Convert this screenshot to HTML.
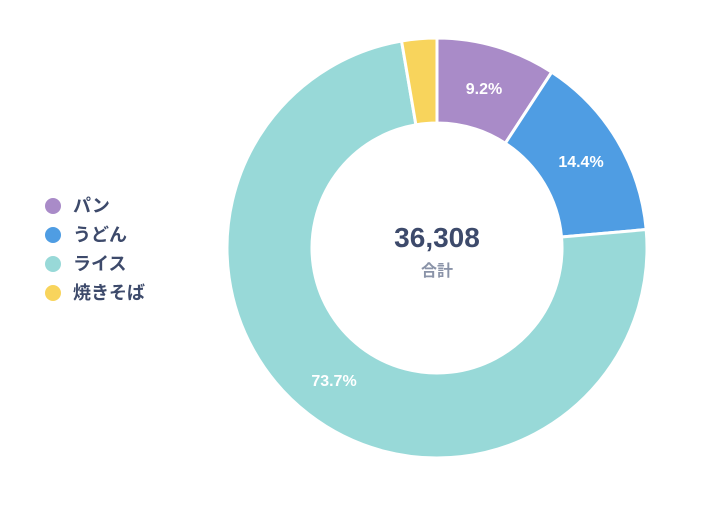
<!DOCTYPE html>
<html><head><meta charset="utf-8"><style>
html,body{margin:0;padding:0;background:#fff;width:720px;height:513px;overflow:hidden}
svg{display:block}
text{font-family:"Liberation Sans","Noto Sans CJK JP",sans-serif;font-weight:bold}
</style></head><body>
<svg id="s" width="720" height="513" viewBox="0 0 720 513">
<g id="slices"></g>
<text x="437" y="247" text-anchor="middle" font-size="28" fill="#3d4a6b">36,308</text>
<text x="437" y="276" text-anchor="middle" font-size="16" fill="#8a93a8">合計</text>
<text x="484" y="94" text-anchor="middle" font-size="16" fill="#fff">9.2%</text>
<text x="581" y="167" text-anchor="middle" font-size="16" fill="#fff">14.4%</text>
<text x="334" y="386" text-anchor="middle" font-size="16" fill="#fff">73.7%</text>
<circle cx="53" cy="206" r="8" fill="#a98bc8"/>
<circle cx="53" cy="235" r="8" fill="#4f9de3"/>
<circle cx="53" cy="264" r="8" fill="#98d9d8"/>
<circle cx="53" cy="293" r="8" fill="#f8d45c"/>
<text x="73" y="212" font-size="18" fill="#3d4a6b">パン</text>
<text x="73" y="241" font-size="18" fill="#3d4a6b">うどん</text>
<text x="73" y="270" font-size="18" fill="#3d4a6b">ライス</text>
<text x="73" y="299" font-size="18" fill="#3d4a6b">焼きそば</text>
</svg>
<script>
var cx=437,cy=248,R=210,r=125;
var d=[[9.2,"#a98bc8"],[14.4,"#4f9de3"],[73.7,"#98d9d8"],[2.7,"#f8d45c"]];
var a=0,g=document.getElementById("slices"),h="";
function p(rad,ang){return [cx+rad*Math.sin(ang),cy-rad*Math.cos(ang)];}
d.forEach(function(s){
 var a0=a/100*2*Math.PI,a1=(a+s[0])/100*2*Math.PI;a+=s[0];
 var L=(a1-a0)>Math.PI?1:0;
 var A=p(R,a0),B=p(R,a1),C=p(r,a1),D=p(r,a0);
 h+='<path d="M'+A+' A'+R+' '+R+' 0 '+L+' 1 '+B+' L'+C+' A'+r+' '+r+' 0 '+L+' 0 '+D+' Z" fill="'+s[1]+'" stroke="#fff" stroke-width="3" stroke-linejoin="round"/>';
});
g.innerHTML=h;
</script>
</body></html>
